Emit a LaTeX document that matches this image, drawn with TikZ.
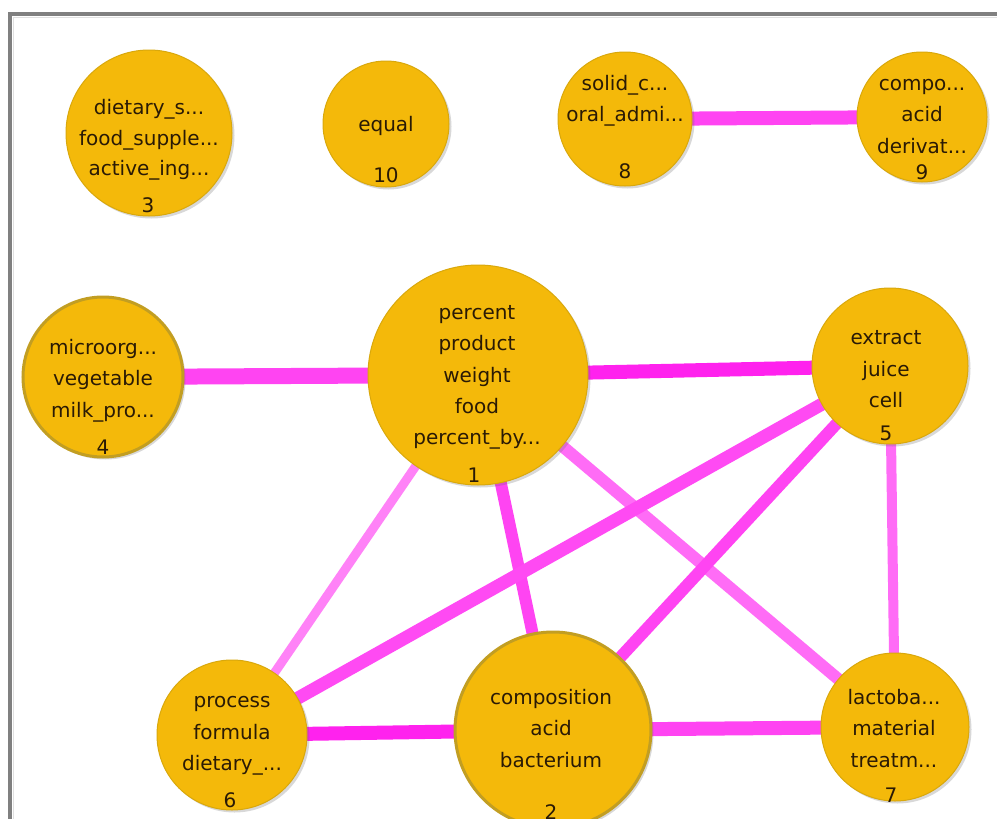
\documentclass[tikz,border=0pt]{standalone}
\usepackage{fontspec}
\setmainfont{DejaVu Sans}
\usetikzlibrary{shadows}
\definecolor{gold}{HTML}{F4B90A}
\definecolor{goldedge}{HTML}{D9A80C}
\definecolor{golddark}{HTML}{C29E22}
\definecolor{txt}{HTML}{2A1A05}
\definecolor{magA}{HTML}{FF22EE}
\definecolor{magB}{HTML}{FF44F2}
\definecolor{magC}{HTML}{FF6CF6}
\definecolor{frame}{HTML}{808080}
\tikzset{
  vnode/.style={circle, fill=gold, draw=goldedge, line width=1pt, inner sep=0pt,
    drop shadow={opacity=0.25, shadow xshift=2.5pt, shadow yshift=-2.5pt, fill=black!60}},
  vnodebold/.style={vnode, draw=golddark, line width=3pt},
  lbl/.style={font=\fontsize{20}{20}\selectfont, text=txt, anchor=base, inner sep=0pt},
  edge/.style={line cap=butt},
}
\begin{document}
\begin{tikzpicture}[x=1pt,y=-1pt]
\useasboundingbox (0,0) rectangle (997,819);
\fill[white] (0,0) rectangle (997,819);
% frame
\draw[frame, line width=4pt] (10,819) -- (10,14) -- (997,14);
\draw[black!12, line width=1pt] (13,819) -- (13,17) -- (997,17);

% node positions
\coordinate (c1) at (478,375);
\coordinate (c2) at (553,730);
\coordinate (c3) at (149,133);
\coordinate (c4) at (103,377);
\coordinate (c5) at (890,366);
\coordinate (c6) at (232,735);
\coordinate (c7) at (895,727);
\coordinate (c8) at (625,119);
\coordinate (c9) at (922,117);
\coordinate (c10) at (386,124);

% edges
\draw[edge, magB, line width=14pt] (c8) -- (c9);
\draw[edge, magB, line width=16pt] (c4) -- (c1);
\draw[edge, magA, line width=14pt] (c1) -- (c5);
\draw[edge, magC!85!white, line width=9pt] (c1) -- (c6);
\draw[edge, magB, line width=12pt] (c1) -- (c2);
\draw[edge, magC, line width=12pt] (c1) -- (c7);
\draw[edge, magB!85!magC, line width=13pt] (c5) -- (c6);
\draw[edge, magB, line width=12pt] (c5) -- (c2);
\draw[edge, magC, line width=10pt] (c5) -- (c7);
\draw[edge, magA, line width=14pt] (c6) -- (c2);
\draw[edge, magB, line width=14pt] (c2) -- (c7);

% nodes
\node[vnode, minimum size=166pt] (n3) at (c3) {};
\node[vnode, minimum size=126pt] (n10) at (c10) {};
\node[vnode, minimum size=134pt] (n8) at (c8) {};
\node[vnode, minimum size=130pt] (n9) at (c9) {};
\node[vnodebold, minimum size=160pt] (n4) at (c4) {};
\node[vnode, minimum size=220pt] (n1) at (c1) {};
\node[vnode, minimum size=156pt] (n5) at (c5) {};
\node[vnode, minimum size=150pt] (n6) at (c6) {};
\node[vnodebold, minimum size=196pt] (n2) at (c2) {};
\node[vnode, minimum size=148pt] (n7) at (c7) {};

% labels node 3
\node[lbl] (t3a) at (149,114) {dietary\_s...};
\node[lbl] (t3b) at (149,145) {food\_supple...};
\node[lbl] (t3c) at (149,175) {active\_ing...};
\node[lbl] (t3n) at (148,212) {3};
% node 10
\node[lbl] (t10a) at (386,131) {equal};
\node[lbl] (t10n) at (386,182) {10};
% node 8
\node[lbl] (t8a) at (625,90) {solid\_c...};
\node[lbl] (t8b) at (625,121) {oral\_admi...};
\node[lbl] (t8n) at (625,178) {8};
% node 9
\node[lbl] (t9a) at (922,90) {compo...};
\node[lbl] (t9b) at (922,121) {acid};
\node[lbl] (t9c) at (922,153) {derivat...};
\node[lbl] (t9n) at (922,179) {9};
% node 4
\node[lbl] (t4a) at (103,354) {microorg...};
\node[lbl] (t4b) at (103,385) {vegetable};
\node[lbl] (t4c) at (103,417) {milk\_pro...};
\node[lbl] (t4n) at (103,454) {4};
% node 1
\node[lbl] (t1a) at (477,319) {percent};
\node[lbl] (t1b) at (477,350) {product};
\node[lbl] (t1c) at (477,382) {weight};
\node[lbl] (t1d) at (477,413) {food};
\node[lbl] (t1e) at (477,444) {percent\_by...};
\node[lbl] (t1n) at (474,482) {1};
% node 5
\node[lbl] (t5a) at (886,344) {extract};
\node[lbl] (t5b) at (886,376) {juice};
\node[lbl] (t5c) at (886,407) {cell};
\node[lbl] (t5n) at (886,440) {5};
% node 6
\node[lbl] (t6a) at (232,707) {process};
\node[lbl] (t6b) at (232,739) {formula};
\node[lbl] (t6c) at (232,770) {dietary\_...};
\node[lbl] (t6n) at (230,807) {6};
% node 2
\node[lbl] (t2a) at (551,704) {composition};
\node[lbl] (t2b) at (551,735) {acid};
\node[lbl] (t2c) at (551,767) {bacterium};
\node[lbl] (t2n) at (551,819) {2};
% node 7
\node[lbl] (t7a) at (894,704) {lactoba...};
\node[lbl] (t7b) at (894,735) {material};
\node[lbl] (t7c) at (894,767) {treatm...};
\node[lbl] (t7n) at (891,802) {7};
\end{tikzpicture}
\end{document}
